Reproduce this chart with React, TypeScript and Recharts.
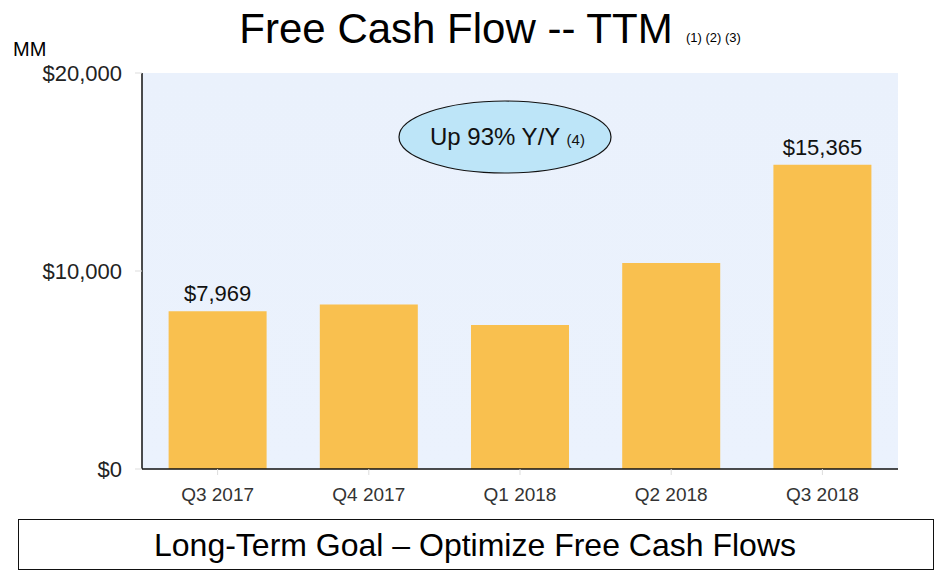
import { Bar, BarChart, CartesianGrid, LabelList, XAxis, YAxis } from "recharts";

const quarters = ["Q3 2017", "Q4 2017", "Q1 2018", "Q2 2018", "Q3 2018"];
const fcf = [7969, 8307, 7270, 10399, 15365];
const barLabels = ["$7,969", "", "", "", "$15,365"];
const yTicks = [0, 10000, 20000];

const data = quarters.map((q, i) => ({ q, fcf: fcf[i], label: barLabels[i] }));

const font = "'Liberation Sans', Arial, sans-serif";

export default function App() {
  return (
    <div
      style={{
        position: "absolute",
        left: 0,
        top: 0,
        width: 943,
        height: 576,
        background: "#fff",
        fontFamily: font,
      }}
    >
      <BarChart
        width={943}
        height={576}
        data={data}
        margin={{ top: 73, right: 45, left: 0, bottom: 77 }}
        barCategoryGap="17.6%"
      >
        <defs>
          <linearGradient id="bg" x1="0" y1="0" x2="0" y2="1">
            <stop offset="0%" stopColor="#EAF1FC" />
            <stop offset="100%" stopColor="#EBF2FD" />
          </linearGradient>
        </defs>
        <CartesianGrid horizontal={false} vertical={false} fill="url(#bg)" stroke="none" />
        <XAxis
          dataKey="q"
          axisLine={{ stroke: "#111", strokeWidth: 1.5 }}
          tickLine={{ stroke: "#ddd" }}
          tickSize={6}
          tickMargin={13}
          height={30}
          tick={{ fill: "#333", fontSize: 19, fontFamily: font }}
        />
        <YAxis
          domain={[0, 20000]}
          ticks={yTicks}
          width={142}
          axisLine={{ stroke: "#111", strokeWidth: 1.5 }}
          tickLine={{ stroke: "#ddd" }}
          tickSize={7}
          tickMargin={13}
          tickFormatter={(v) => `$${Number(v).toLocaleString("en-US")}`}
          tick={{ fill: "#222", fontSize: 22, fontFamily: font }}
        />
        <Bar dataKey="fcf" fill="#F9C04F" isAnimationActive={false}>
          <LabelList
            dataKey="label"
            position="top"
            offset={10}
            style={{ fill: "#111", fontSize: 22, fontFamily: font }}
          />
        </Bar>
      </BarChart>
      <svg
        width={943}
        height={576}
        style={{ position: "absolute", left: 0, top: 0, pointerEvents: "none" }}
      >
        <text x={456} y={43} textAnchor="middle" fontSize={42} fill="#000" fontFamily={font}>
          Free Cash Flow -- TTM
        </text>
        <text x={686} y={42} fontSize={13} fill="#000" fontFamily={font}>
          (1) (2) (3)
        </text>
        <text x={13} y={56} fontSize={20} fill="#000" fontFamily={font}>
          MM
        </text>
        <ellipse cx={505} cy={137} rx={106} ry={36} fill="#BDE5F8" stroke="#111" strokeWidth={1.2} />
        <text x={430} y={145} fontSize={24} fill="#111" fontFamily={font}>
          Up 93% Y/Y <tspan fontSize={15}>(4)</tspan>
        </text>
        <rect x={18.5} y={519.5} width={915} height={50} fill="none" stroke="#111" strokeWidth={1} />
        <text x={475} y={556} textAnchor="middle" fontSize={32} fill="#000" fontFamily={font}>
          Long-Term Goal – Optimize Free Cash Flows
        </text>
      </svg>
    </div>
  );
}
